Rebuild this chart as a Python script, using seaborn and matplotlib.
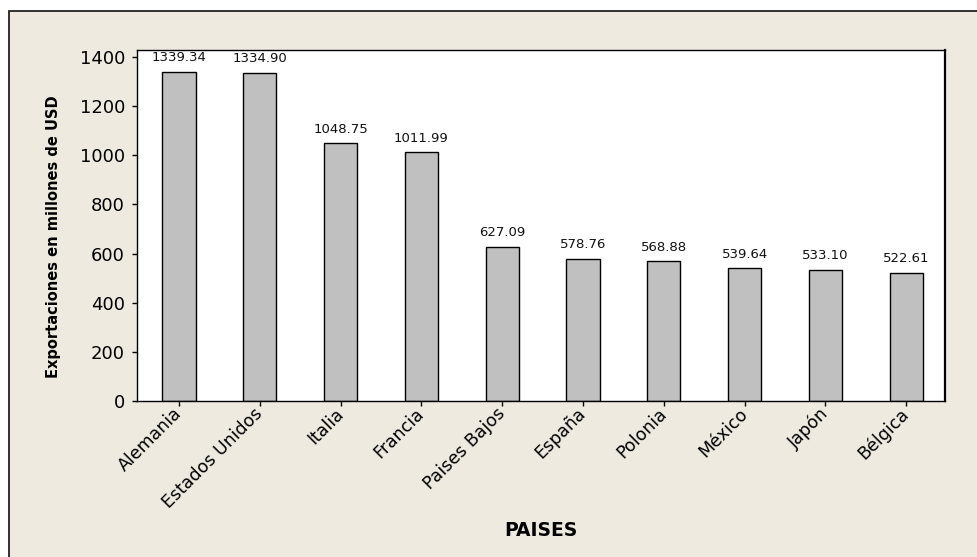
import matplotlib
matplotlib.use("Agg")
import matplotlib.pyplot as plt
from matplotlib.patches import Rectangle
import seaborn as sns
import pandas as pd

paises = ["Alemania", "Estados Unidos", "Italia", "Francia", "Paises Bajos",
          "España", "Polonia", "México", "Japón", "Bélgica"]
exportaciones = [1339.34, 1334.90, 1048.75, 1011.99, 627.09,
                 578.76, 568.88, 539.64, 533.10, 522.61]
y_ticks = [0, 200, 400, 600, 800, 1000, 1200, 1400]

df = pd.DataFrame({"PAISES": paises, "Exportaciones": exportaciones})

sns.set_style("white")
plt.rcParams["font.family"] = ["DejaVu Sans"]
plt.rcParams["text.color"] = "black"
plt.rcParams["axes.labelcolor"] = "black"

bg = "#EEEAE0"
fig = plt.figure(figsize=(9.78, 5.57), dpi=100, facecolor="white")
# outer panel with a dark border along its top and left edges
fig.patches.append(Rectangle((8.5 / 978, -0.05), 1.2, (557 - 11) / 557 + 0.05,
                             transform=fig.transFigure, facecolor=bg,
                             edgecolor="#222222", linewidth=1.3, zorder=-10))

ax = fig.add_axes([137 / 978, 156 / 557, (945 - 137) / 978, (401 - 50) / 557])
ax.set_facecolor("white")

sns.barplot(data=df, x="PAISES", y="Exportaciones", color="#C0C0C0",
            saturation=1, edgecolor="black", linewidth=1.0, width=0.41, ax=ax)

ax.bar_label(ax.containers[0], fmt="%.2f", padding=5.5, fontsize=9.5, color="#111111")

ax.set_ylim(0, 1428)
ax.set_xlim(-0.52, 9.48)
ax.set_yticks(y_ticks)
ax.tick_params(axis="y", direction="out", length=3.6, width=1, labelsize=13,
               colors="black", left=True, pad=5)
ax.tick_params(axis="x", direction="out", length=3.6, width=1, labelsize=12.5,
               colors="black", bottom=True, pad=3.5)
plt.setp(ax.get_xticklabels(), rotation=45, ha="right", va="center",
         rotation_mode="anchor")

for s in ax.spines.values():
    s.set_visible(True)
    s.set_color("black")
    s.set_linewidth(1.0)
ax.spines["right"].set_linewidth(1.6)

ax.set_ylabel("Exportaciones en millones de USD", fontsize=10.5,
              fontweight="bold")
ax.yaxis.set_label_coords(-(137 - 61) / 808, (401 - 237) / 351)
ax.set_xlabel("PAISES", fontsize=13.5, fontweight="bold")
ax.xaxis.set_label_coords((541 - 137) / 808, -(521 - 401) / 351)

fig.savefig("out.png", dpi=100, facecolor=fig.get_facecolor())
